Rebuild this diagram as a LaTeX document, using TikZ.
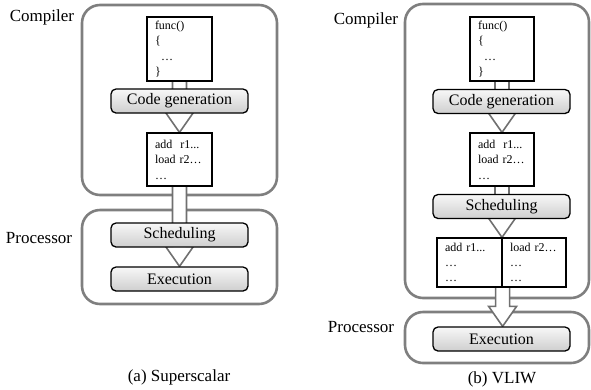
\documentclass[tikz,border=0pt]{standalone}
\usepackage{fontspec}
\setmainfont{Liberation Serif}
\usetikzlibrary{calc}
\pgfdeclarelayer{back}
\pgfdeclarelayer{mid}
\pgfsetlayers{back,mid,main}
\definecolor{frame}{HTML}{7F7F7F}
\definecolor{arrowgray}{HTML}{707070}
\tikzset{
  outerbox/.style={draw=frame, line width=2.6pt, rounded corners=18pt, inner sep=0pt},
  procbox/.style={draw=black, line width=1.3pt, rounded corners=5pt, top color=gray!6, bottom color=gray!38,
    minimum width=137pt, minimum height=24pt, inner sep=0pt, font=\fontsize{16}{19}\selectfont},
  codebox/.style={draw=black, line width=1.2pt, fill=white, inner xsep=8pt, inner ysep=0pt,
    align=left, font=\fontsize{12}{15.5}\selectfont},
  harrow/.style={draw=arrowgray, line width=1.6pt, fill=white, line join=miter},
  lbl/.style={font=\fontsize{17}{20}\selectfont, inner sep=0pt},
}
\newcommand\hollowarrow[2]{%
  \draw[harrow] let \p1=#1, \p2=#2 in
    (\x1-7pt,\y1+2pt) -- (\x1-7pt,\y2+20pt) -- (\x1-14pt,\y2+20pt) -- (\x1,\y2)
    -- (\x1+14pt,\y2+20pt) -- (\x1+7pt,\y2+20pt) -- (\x1+7pt,\y1+2pt) -- cycle;}
\begin{document}
\begin{tikzpicture}[x=1pt,y=-1pt]
\useasboundingbox (0,0) rectangle (591,389);
% ---------- (a) Superscalar ----------
\node[codebox, text width=49pt, minimum height=64pt] (funcA) at (179.5,49) {func()\\\{\\\hspace*{6pt}…\\\}};
\node[procbox] (codegenA) at (179.5,101) {Code generation};
\node[codebox, text width=49pt, minimum height=53pt] (addA) at (179.5,159.5) {add\ \ r1...\\load r2…\\…};
\node[procbox] (schedA) at (179.5,235) {Scheduling};
\node[procbox] (execA) at (179.5,279) {Execution};
\node[lbl] (compLabA) at (42,17) {Compiler};
\node[lbl] (procLabA) at (39,238) {Processor};
\node[lbl] (capA) at (179,377) {(a) Superscalar};
\begin{pgfonlayer}{back}
\node[outerbox, minimum width=195pt, minimum height=190pt] (compA) at (179.5,100) {};
\node[outerbox, minimum width=195pt, minimum height=94pt] (procA) at (179.5,257) {};
\end{pgfonlayer}
\begin{pgfonlayer}{mid}
\hollowarrow{(funcA.south)}{(addA.north)}
\hollowarrow{(addA.south)}{(execA.north)}
\end{pgfonlayer}
% ---------- (b) VLIW ----------
\node[codebox, text width=48pt, minimum height=64pt] (funcB) at (502,49) {func()\\\{\\\hspace*{6pt}…\\\}};
\node[procbox] (codegenB) at (501.5,101.5) {Code generation};
\node[codebox, text width=48pt, minimum height=53pt] (addB) at (502,159.5) {add\ \ r1...\\load r2…\\…};
\node[procbox] (schedB) at (501.5,206.5) {Scheduling};
\node[codebox, text width=49pt, minimum height=49pt, font=\fontsize{12}{15}\selectfont] (vliwL) at (469.5,262.5) {add r1...\\…\\…};
\node[codebox, text width=48pt, minimum height=49pt, font=\fontsize{12}{15}\selectfont] (vliwR) at (534,262.5) {load r2…\\…\\…};
\node[procbox] (execB) at (501.5,339) {Execution};
\node[lbl] (compLabB) at (366,20) {Compiler};
\node[lbl] (procLabB) at (361,327) {Processor};
\node[lbl] (capB) at (502,379) {(b) VLIW};
\begin{pgfonlayer}{back}
\node[outerbox, minimum width=184pt, minimum height=294pt] (compB) at (497,151) {};
\node[outerbox, minimum width=184pt, minimum height=51pt] (procB) at (497,337.5) {};
\end{pgfonlayer}
\begin{pgfonlayer}{mid}
\hollowarrow{(funcB.south)}{(addB.north)}
\hollowarrow{(addB.south)}{(vliwL.north east)}
\hollowarrow{(vliwL.south east)}{(execB.north)}
\end{pgfonlayer}
\end{tikzpicture}
\end{document}
